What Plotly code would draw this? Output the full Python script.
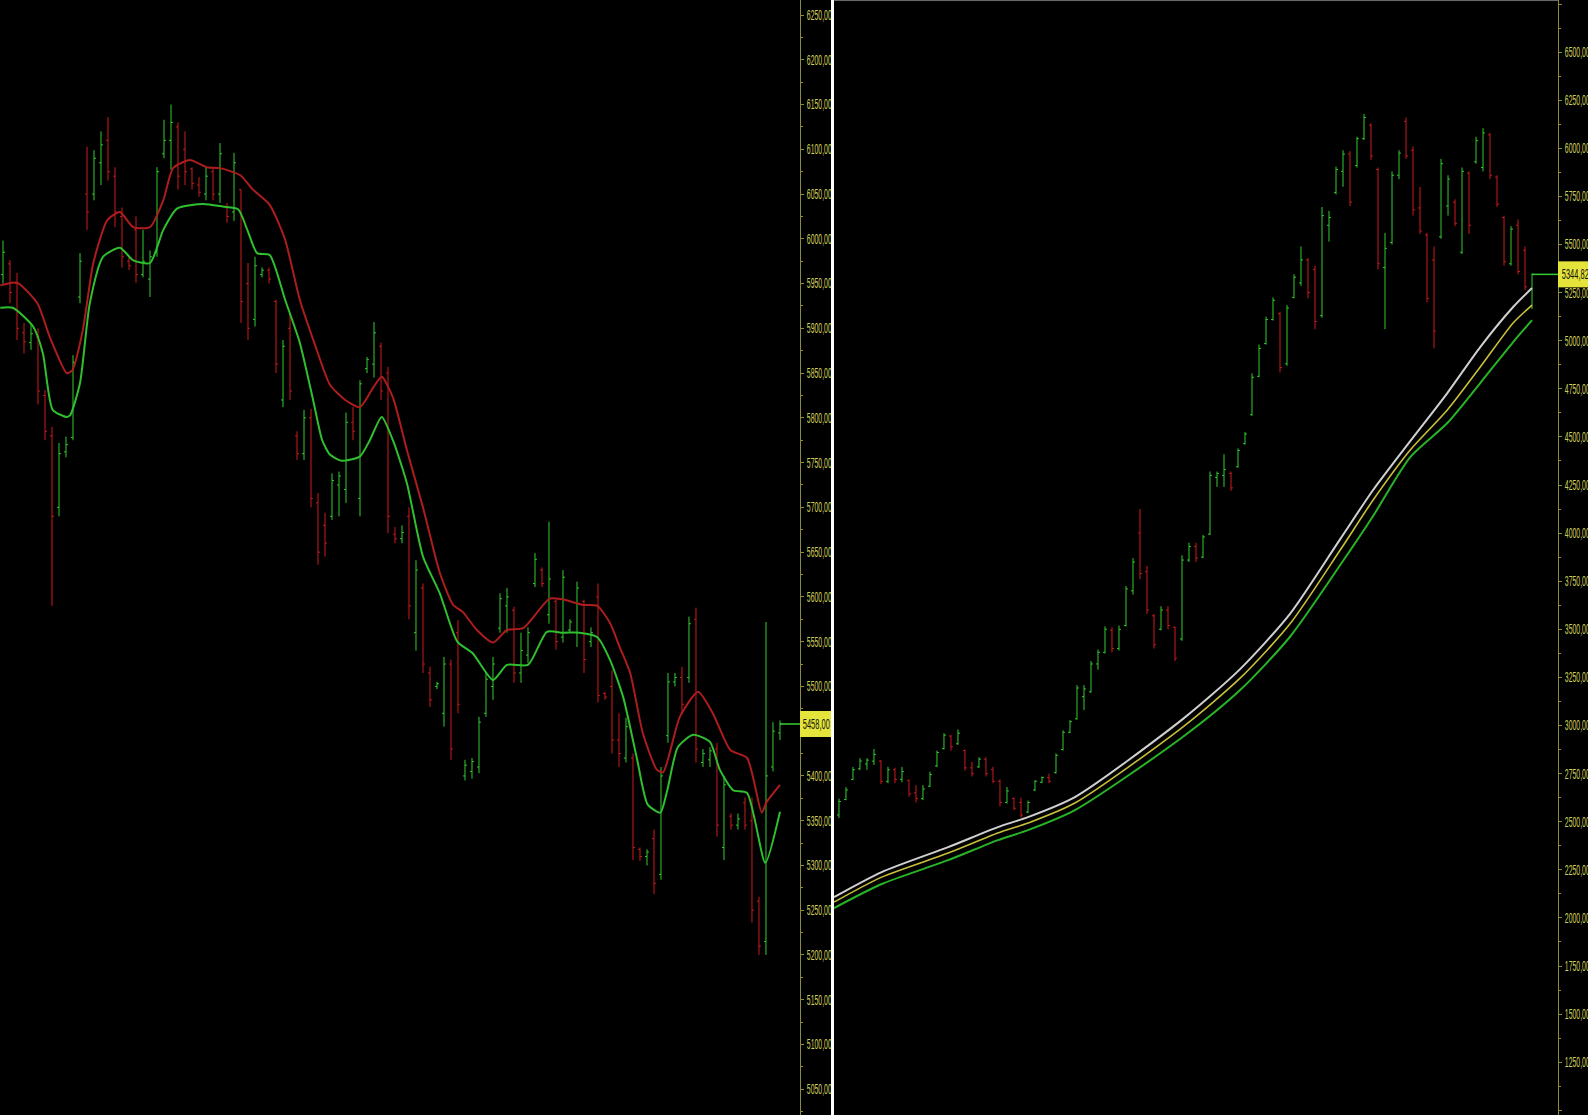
import plotly.graph_objects as go

W, H = 1588, 1115

# ---------------- Left panel: OHLC bars ----------------
open_l = [5960, 5972, 5950, 5895, 5884, 5890, 5825, 5780, 5700, 5762,
          5778, 5935, 6050, 6050, 6085, 6110, 6070, 6025, 5975, 6010,
          5960, 5955, 5985, 6095, 6110, 6125, 6100, 6078, 6060, 6050,
          6075, 6050, 6035, 6030, 6055, 5950, 5910, 5960, 5965, 5930,
          5820, 5900, 5780, 5760, 5800, 5705, 5680, 5690, 5725, 5720,
          5795, 5710, 5855, 5860, 5880, 5850, 5670, 5665, 5690, 5560,
          5610, 5515, 5500, 5470, 5525, 5560, 5400, 5405, 5410, 5470,
          5500, 5565, 5590, 5585, 5515, 5535, 5615, 5630, 5580, 5595,
          5555, 5563, 5560, 5595, 5550, 5600, 5492, 5500, 5440, 5420,
          5420, 5318, 5310, 5330, 5290, 5445, 5505, 5510, 5510, 5575,
          5415, 5418, 5430, 5320, 5355, 5345, 5370, 5350, 5260, 5215,
          5410, 5448]
high_l = [5998, 5976, 5962, 5906, 5904, 5900, 5831, 5790, 5772, 5779,
          5870, 5984, 6103, 6099, 6120, 6136, 6080, 6035, 5980, 6025,
          6010, 5987, 6080, 6133, 6150, 6130, 6120, 6080, 6069, 6080,
          6080, 6107, 6040, 6096, 6055, 5973, 5980, 5968, 5968, 5932,
          5887, 5917, 5785, 5809, 5810, 5716, 5694, 5738, 5740, 5806,
          5812, 5842, 5868, 5907, 5884, 5857, 5678, 5680, 5700, 5641,
          5615, 5522, 5505, 5533, 5530, 5574, 5418, 5420, 5466, 5515,
          5533, 5604, 5610, 5589, 5560, 5566, 5649, 5633, 5684, 5597,
          5630, 5575, 5617, 5597, 5566, 5615, 5494, 5518, 5470, 5465,
          5425, 5320, 5318, 5340, 5410, 5515, 5515, 5522, 5578, 5588,
          5430, 5432, 5437, 5400, 5358, 5358, 5376, 5376, 5265, 5572,
          5460, 5462]
low_l = [5950, 5928, 5887, 5872, 5876, 5815, 5775, 5590, 5690, 5756,
         5775, 5928, 6010, 6043, 6060, 6065, 6013, 5968, 5965, 5951,
         5957, 5935, 5980, 6090, 6077, 6055, 6060, 6055, 6047, 6043,
         6043, 6040, 6018, 6020, 5906, 5887, 5902, 5957, 5950, 5850,
         5812, 5820, 5753, 5753, 5700, 5636, 5645, 5686, 5690, 5705,
         5775, 5690, 5850, 5845, 5820, 5671, 5660, 5660, 5575, 5540,
         5515, 5477, 5497, 5455, 5418, 5470, 5395, 5397, 5403, 5466,
         5485, 5560, 5560, 5504, 5504, 5526, 5611, 5611, 5570, 5541,
         5549, 5560, 5544, 5515, 5544, 5482, 5485, 5425, 5410, 5415,
         5306, 5305, 5300, 5268, 5284, 5437, 5500, 5470, 5504, 5415,
         5410, 5410, 5332, 5306, 5340, 5340, 5340, 5236, 5200, 5200,
         5405, 5440]
close_l = [5985, 5940, 5900, 5885, 5894, 5830, 5785, 5690, 5760, 5770,
           5862, 5975, 6030, 6090, 6105, 6075, 6030, 5980, 5970, 5960,
           5975, 5980, 6075, 6110, 6130, 6070, 6075, 6062, 6052, 6070,
           6050, 6095, 6025, 6085, 5930, 5900, 5970, 5965, 5955, 5860,
           5880, 5830, 5760, 5800, 5710, 5650, 5660, 5730, 5735, 5795,
           5785, 5838, 5865, 5895, 5830, 5690, 5665, 5672, 5590, 5630,
           5525, 5485, 5503, 5525, 5430, 5480, 5412, 5416, 5460, 5508,
           5525, 5598, 5600, 5515, 5540, 5560, 5642, 5615, 5620, 5550,
           5622, 5572, 5610, 5530, 5560, 5490, 5488, 5440, 5425, 5455,
           5320, 5310, 5315, 5280, 5400, 5505, 5510, 5480, 5570, 5430,
           5425, 5428, 5345, 5390, 5345, 5352, 5345, 5250, 5210, 5400,
           5450, 5458]

# Left panel moving averages (bar-index positions, price)
ma_red_l_x = [-0.4, 2, 4.9, 6.7, 9.1, 9.9, 11.4, 12.9, 14.9, 16.7, 18.6, 21,
              22.9, 24.3, 26.7, 29.1, 31, 33.9, 35.7, 38.1, 40.3, 42.4, 44.6,
              46.7, 48.9, 51, 52.9, 54.1, 55.7, 57.7, 60, 62.4, 64.3, 65.7,
              67.7, 70, 72, 74.3, 78.1, 80, 82.9, 84.9, 86.7, 88.1, 89.6,
              91.4, 93.4, 94.3, 96.7, 99.3, 101.4, 103.9, 106.3, 108.4,
              109.1, 111]
ma_red_l = [5948, 5951, 5928, 5890, 5850, 5853, 5898, 5973, 6021, 6030, 6013,
            6013, 6043, 6079, 6088, 6080, 6079, 6071, 6055, 6038, 5999, 5932,
            5881, 5837, 5820, 5812, 5834, 5846, 5823, 5764, 5700, 5627, 5591,
            5583, 5563, 5549, 5563, 5565, 5598, 5597, 5591, 5590, 5571, 5544,
            5515, 5448, 5407, 5404, 5466, 5494, 5470, 5429, 5420, 5359, 5371,
            5390]
ma_grn_l_x = [-0.4, 1.4, 4.3, 5.7, 7.1, 9.1, 9.6, 11, 12.4, 14.3, 16.7, 18.6,
              21, 22.9, 24.9, 28.6, 31.4, 33.6, 34.9, 36.3, 38.1, 40.3, 42.4,
              44.3, 45.6, 46.7, 48.4, 51, 52.4, 54.1, 55.7, 57.7, 60, 62.4,
              64.9, 67.1, 70, 72, 75, 77.7, 80, 82.4, 84.9, 86.7, 88.6, 90.6,
              92.1, 93.9, 94.9, 96.4, 98.6, 101, 102.4, 104.3, 106.3, 108.9,
              111]
ma_grn_l = [5923, 5923, 5902, 5872, 5809, 5801, 5803, 5839, 5928, 5980, 5990,
            5976, 5973, 6010, 6034, 6039, 6036, 6033, 6010, 5984, 5982, 5932,
            5884, 5820, 5775, 5759, 5752, 5757, 5775, 5801, 5775, 5727, 5645,
            5604, 5550, 5537, 5507, 5524, 5524, 5561, 5560, 5560, 5555, 5530,
            5488, 5418, 5368, 5359, 5384, 5432, 5446, 5438, 5407, 5384, 5381,
            5303, 5360]

# ---------------- Right panel: OHLC bars ----------------
open_r = [2535, 2615, 2720, 2775, 2800, 2815, 2815, 2710, 2770, 2720,
          2715, 2650, 2620, 2685, 2790, 2880, 2945, 2905, 2870, 2780,
          2785, 2825, 2770, 2710, 2600, 2620, 2600, 2550, 2665, 2705,
          2730, 2755, 2875, 2965, 3035, 3150, 3175, 3320, 3380, 3495,
          3400, 3520, 3700, 4000, 3800, 3570, 3500, 3600, 3510, 3450,
          3860, 3930, 3875, 3995, 4290, 4300, 4310, 4345, 4465, 4615,
          4815, 4985, 5110, 5140, 4880, 5225, 5300, 5420, 5370, 5130,
          5600, 5770, 5880, 5970, 5910, 6050, 6120, 5890, 5380, 5510,
          5860, 6140, 5990, 5690, 5550, 5420, 5540, 5700, 5720, 5460,
          5870, 5930, 5900, 6070, 5850, 5640, 5400, 5600, 5470, 5180]
high_r = [2620, 2680, 2784, 2830, 2830, 2878, 2820, 2785, 2780, 2785,
          2720, 2690, 2690, 2760, 2870, 2960, 2950, 2980, 2875, 2810,
          2835, 2835, 2785, 2720, 2680, 2625, 2625, 2610, 2716, 2735,
          2750, 2855, 2975, 3028, 3210, 3210, 3335, 3395, 3515, 3510,
          3520, 3725, 3870, 4125, 3830, 3580, 3620, 3620, 3515, 3885,
          3950, 3950, 3990, 4320, 4320, 4410, 4320, 4440, 4525, 4830,
          4980, 5125, 5225, 5150, 5185, 5345, 5490, 5430, 5390, 5695,
          5675, 5905, 5990, 5985, 6060, 6178, 6130, 5900, 5560, 5880,
          5990, 6160, 6010, 5800, 5560, 5490, 5945, 5860, 5735, 5900,
          5880, 6060, 6105, 6080, 5860, 5650, 5595, 5630, 5490, 5350]
low_r = [2520, 2612, 2716, 2768, 2770, 2795, 2695, 2700, 2700, 2705,
         2630, 2600, 2612, 2680, 2785, 2875, 2870, 2900, 2765, 2735,
         2780, 2735, 2700, 2580, 2595, 2560, 2520, 2545, 2660, 2700,
         2700, 2750, 2870, 2960, 3030, 3080, 3170, 3290, 3375, 3380,
         3390, 3515, 3680, 3760, 3580, 3400, 3495, 3500, 3335, 3440,
         3850, 3850, 3870, 3990, 4240, 4240, 4220, 4340, 4460, 4610,
         4810, 4980, 5105, 4835, 4870, 5220, 5285, 5220, 5060, 5120,
         5515, 5760, 5800, 5700, 5900, 6043, 5940, 5370, 5060, 5500,
         5840, 5945, 5650, 5555, 5200, 4960, 5530, 5650, 5595, 5450,
         5555, 5920, 5880, 5840, 5695, 5390, 5390, 5345, 5263, 5165]
close_r = [2605, 2665, 2770, 2815, 2820, 2850, 2710, 2770, 2720, 2760,
           2645, 2620, 2670, 2745, 2860, 2950, 2890, 2960, 2780, 2750,
           2825, 2750, 2710, 2600, 2660, 2570, 2535, 2600, 2710, 2730,
           2710, 2845, 2965, 3020, 3195, 3190, 3320, 3380, 3500, 3400,
           3500, 3710, 3850, 3790, 3600, 3420, 3600, 3520, 3350, 3860,
           3930, 3870, 3980, 4300, 4310, 4330, 4235, 4430, 4515, 4810,
           4960, 5110, 5210, 4860, 5170, 5330, 5420, 5250, 5100, 5650,
           5640, 5890, 5970, 5720, 6050, 6160, 5960, 5400, 5480, 5860,
           5975, 5960, 5680, 5570, 5220, 5050, 5920, 5840, 5610, 5880,
           5600, 6040, 6080, 5860, 5710, 5410, 5580, 5360, 5280, 5344.82]

# Right panel moving averages
ma_r_x = [-0.7, 6.1, 15.6, 22.7, 27.0, 33.7, 49.1, 57.3, 64.4, 71.6,
          76.3, 81.6, 86.9, 91.6, 96.3, 99]
ma_white_r = [2108, 2238, 2368, 2472, 2524, 2628, 3033, 3293, 3579, 3969,
              4224, 4478, 4728, 4967, 5175, 5274]
ma_yellow_r = [2082, 2212, 2337, 2441, 2493, 2597, 2992, 3246, 3527, 3912,
               4172, 4432, 4640, 4863, 5092, 5185]
ma_green_r = [2051, 2176, 2300, 2404, 2456, 2560, 2940, 3184, 3460, 3834,
              4089, 4395, 4572, 4780, 4993, 5107]

# Axis ticks
ticks_l = list(range(5050, 6251, 50))
ticks_r = list(range(1000, 6751, 250))


def fmt(v):
    return f"{v:.2f}".replace(".", ",")


# ---------------- Styling ----------------
BAR_GREEN = "#33cc33"
BAR_RED = "#cc1a1e"
MA_RED = "#ad1d1d"
MA_GREEN = "#2fbf2f"
AX_COL = "#8c8c3c"
LAB_COL = "#d0d05a"
BADGE = "#e4e43a"
FONT = "Liberation Sans, Arial, sans-serif"

LEFT_PX = (0, 800)
RIGHT_PX = (834, 1558)
xr_l = [-0.43, 113.86]
xr_r = [-0.71, 102.71]
yr_l = [5021.2, 6266.8]
yr_r = [975.6, 6770.8]

# price badges (yellow boxes at the axis), half height in pixels
BADGE_HALF_PX = 13
half_l = BADGE_HALF_PX * (yr_l[1] - yr_l[0]) / H
half_r = BADGE_HALF_PX * (yr_r[1] - yr_r[0]) / H

# tick labels hidden under the left badge are not drawn
ticks_l_shown = [v for v in ticks_l if abs(v - close_l[-1]) > half_l]
ticktext_l = [fmt(v) for v in ticks_l_shown]
ticktext_r = [fmt(v) for v in ticks_r]

fig = go.Figure()

fig.add_trace(go.Ohlc(
    x=list(range(len(close_l))), open=open_l, high=high_l, low=low_l, close=close_l,
    increasing=dict(line=dict(color=BAR_GREEN, width=1)),
    decreasing=dict(line=dict(color=BAR_RED, width=1)),
    tickwidth=0.28, xaxis="x", yaxis="y", hoverinfo="skip", showlegend=False))
fig.add_trace(go.Scatter(x=ma_red_l_x, y=ma_red_l, mode="lines",
                         line=dict(color=MA_RED, width=2, shape="spline", smoothing=0.6),
                         xaxis="x", yaxis="y", hoverinfo="skip", showlegend=False))
fig.add_trace(go.Scatter(x=ma_grn_l_x, y=ma_grn_l, mode="lines",
                         line=dict(color=MA_GREEN, width=2, shape="spline", smoothing=0.6),
                         xaxis="x", yaxis="y", hoverinfo="skip", showlegend=False))
fig.add_trace(go.Scatter(x=[len(close_l) - 1, xr_l[1]], y=[close_l[-1], close_l[-1]],
                         mode="lines", line=dict(color=BAR_GREEN, width=1.5),
                         xaxis="x", yaxis="y", hoverinfo="skip", showlegend=False))

fig.add_trace(go.Ohlc(
    x=list(range(len(close_r))), open=open_r, high=high_r, low=low_r, close=close_r,
    increasing=dict(line=dict(color=BAR_GREEN, width=1)),
    decreasing=dict(line=dict(color=BAR_RED, width=1)),
    tickwidth=0.28, xaxis="x2", yaxis="y2", hoverinfo="skip", showlegend=False))
fig.add_trace(go.Scatter(x=ma_r_x, y=ma_green_r, mode="lines",
                         line=dict(color="#27b427", width=2, shape="spline", smoothing=0.7),
                         xaxis="x2", yaxis="y2", hoverinfo="skip", showlegend=False))
fig.add_trace(go.Scatter(x=ma_r_x, y=ma_yellow_r, mode="lines",
                         line=dict(color="#c8bf3a", width=1.6, shape="spline", smoothing=0.7),
                         xaxis="x2", yaxis="y2", hoverinfo="skip", showlegend=False))
fig.add_trace(go.Scatter(x=ma_r_x, y=ma_white_r, mode="lines",
                         line=dict(color="#d0d0d0", width=2, shape="spline", smoothing=0.7),
                         xaxis="x2", yaxis="y2", hoverinfo="skip", showlegend=False))
fig.add_trace(go.Scatter(x=[len(close_r) - 1, xr_r[1]], y=[close_r[-1], close_r[-1]],
                         mode="lines", line=dict(color=BAR_GREEN, width=1.5),
                         xaxis="x2", yaxis="y2", hoverinfo="skip", showlegend=False))


def yaxis_style(tv, tt, rng, anchor, minor_dtick, tick0):
    return dict(
        domain=[0, 1], range=rng, side="right", anchor=anchor, automargin=False,
        showgrid=False, zeroline=False, showline=True, linecolor=AX_COL, linewidth=1,
        ticks="outside", ticklen=3, tickcolor=AX_COL, tickwidth=1,
        tickmode="array", tickvals=tv, ticktext=tt,
        tickfont=dict(family=FONT, size=14, color=LAB_COL),
        minor=dict(tickmode="linear", tick0=tick0, dtick=minor_dtick,
                   ticks="outside", ticklen=2, tickcolor=AX_COL, showgrid=False),
        fixedrange=True)


fig.update_layout(
    width=W, height=H, autosize=False,
    margin=dict(l=0, r=0, t=0, b=0, pad=0),
    paper_bgcolor="black", plot_bgcolor="black",
    showlegend=False,
    xaxis=dict(domain=[LEFT_PX[0] / W, LEFT_PX[1] / W], range=xr_l, visible=False,
               rangeslider=dict(visible=False), anchor="y", fixedrange=True),
    yaxis=yaxis_style(ticks_l_shown, ticktext_l, yr_l, "x", 50, 5025),
    xaxis2=dict(domain=[RIGHT_PX[0] / W, RIGHT_PX[1] / W], range=xr_r, visible=False,
                rangeslider=dict(visible=False), anchor="y2", fixedrange=True),
    yaxis2=yaxis_style(ticks_r, ticktext_r, yr_r, "x2", 250, 1125),
    shapes=[
        dict(type="line", xref="paper", yref="paper", x0=832.5 / W, x1=832.5 / W, y0=0, y1=1,
             line=dict(color="white", width=3), layer="above"),
        dict(type="line", xref="paper", yref="paper", x0=RIGHT_PX[0] / W, x1=RIGHT_PX[1] / W,
             y0=0.9995, y1=0.9995, line=dict(color="#6e6e6e", width=1)),
        dict(type="rect", xref="paper", yref="y", x0=LEFT_PX[1] / W, x1=831 / W,
             y0=close_l[-1] - half_l, y1=close_l[-1] + half_l,
             fillcolor=BADGE, line=dict(width=0), layer="above"),
        dict(type="rect", xref="paper", yref="y2", x0=RIGHT_PX[1] / W, x1=1.0,
             y0=close_r[-1] - half_r, y1=close_r[-1] + half_r,
             fillcolor=BADGE, line=dict(width=0), layer="above"),
    ],
    annotations=[
        dict(xref="paper", yref="y", x=816 / W, y=close_l[-1], xanchor="center",
             yanchor="middle", text=fmt(close_l[-1]), showarrow=False,
             font=dict(family=FONT, size=14, color="#101010")),
        dict(xref="paper", yref="y2", x=1575 / W, y=close_r[-1], xanchor="center",
             yanchor="middle", text=fmt(close_r[-1]), showarrow=False,
             font=dict(family=FONT, size=14, color="#101010")),
    ],
)

post_js = """
document.documentElement.style.margin = '0';
document.documentElement.style.overflow = 'hidden';
document.documentElement.style.background = 'black';
document.body.style.margin = '0';
document.body.style.overflow = 'hidden';
document.body.style.background = 'black';
var gd = document.getElementById('{plot_id}');
function squeezeLabels() {
  gd.querySelectorAll('.ytick text, .y2tick text').forEach(function(t) {
    t.setAttribute('textLength', '25');
    t.setAttribute('lengthAdjust', 'spacingAndGlyphs');
  });
  gd.querySelectorAll('.annotation-text').forEach(function(t) {
    t.setAttribute('textLength', '27');
    t.setAttribute('lengthAdjust', 'spacingAndGlyphs');
  });
}
squeezeLabels();
if (gd.on) { gd.on('plotly_afterplot', squeezeLabels); }
"""

fig.write_html("out.html", post_script=post_js,
               config={"responsive": False, "displayModeBar": False, "staticPlot": True})
